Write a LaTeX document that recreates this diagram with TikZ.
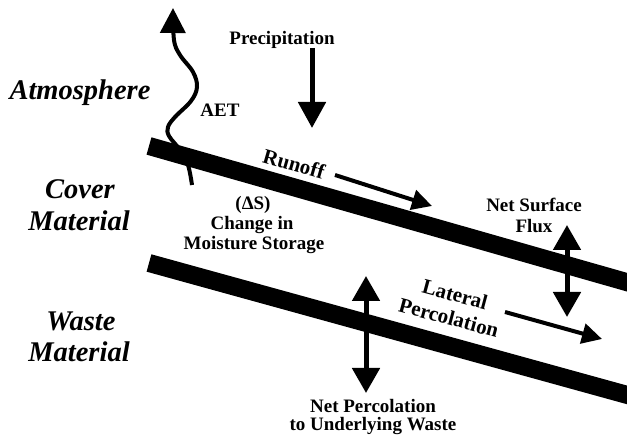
\documentclass[tikz,border=0pt]{standalone}
\usepackage{fontspec}
\setmainfont{Liberation Serif}
\usetikzlibrary{arrows.meta}
\begin{document}
\begin{tikzpicture}[x=1pt,y=-1pt,
  band/.style={line width=18pt, line cap=butt},
  title/.style={font=\fontsize{28.5}{32}\selectfont\bfseries\itshape, anchor=base, inner sep=0pt},
  lbl/.style={font=\fontsize{19}{20}\selectfont\bfseries, anchor=base, inner sep=0pt},
  rlbl/.style={font=\fontsize{21}{24}\selectfont\bfseries, align=center, inner sep=0pt},
  bigarrow/.style={line width=5pt, -{Triangle[width=27pt,length=26pt]}},
  dblarrow/.style={line width=5pt, {Triangle[width=27pt,length=25pt]}-{Triangle[width=27pt,length=25pt]}},
  thinarrow/.style={line width=4pt, -{Triangle[width=20pt,length=20pt]}},
  wavyarrow/.style={line width=4pt, -{Triangle[width=25pt,length=25pt]}},
]
\useasboundingbox (0,0) rectangle (627,438);
\clip (0,0) rectangle (627,438);

% layers
\coordinate (u1) at (149,146); \coordinate (u2) at (660,291.6);
\coordinate (l1) at (149,263); \coordinate (l2) at (660,404);
\draw[band] (u1) -- (u2);
\draw[band] (l1) -- (l2);

% zone titles
\node[title] (atm) at (80,100) {Atmosphere};
\node[title] (cov1) at (80,199) {Cover};
\node[title] (cov2) at (79,231) {Material};
\node[title] (was1) at (81,331) {Waste};
\node[title] (was2) at (79,362) {Material};

% precipitation
\node[lbl] (prec) at (282,45) {Precipitation};
\coordinate (precA) at (312,48); \coordinate (precB) at (312,128);
\draw[bigarrow] (precA) -- (precB);

% AET
\node[lbl] (aet) at (220,117) {AET};
\draw[wavyarrow] plot[smooth, tension=0.6] coordinates {(192,185) (188,165) (180,150) (169,136) (168,127) (175,117) (191,101) (197,87) (193,72) (180,55) (174,40) (173,8)};

% runoff
\node[rlbl, rotate=-16] (runoff) at (294,164) {Runoff};
\coordinate (roA) at (335,175); \coordinate (roB) at (432,206);
\draw[thinarrow] (roA) -- (roB);

% storage
\node[lbl] (ds1) at (253,210) {(ΔS)};
\node[lbl] (ds2) at (252,230) {Change in};
\node[lbl] (ds3) at (254,250) {Moisture Storage};

% net surface flux
\node[lbl] (nsf1) at (534,212) {Net Surface};
\node[lbl] (nsf2) at (534,233) {Flux};
\coordinate (nsfA) at (567,225); \coordinate (nsfB) at (567,317);
\draw[dblarrow] (nsfA) -- (nsfB);

% lateral percolation
\node[rlbl, rotate=-15] (lat) at (452,306) {Lateral\\Percolation};
\coordinate (latA) at (505,312); \coordinate (latB) at (602,339);
\draw[thinarrow] (latA) -- (latB);

% net percolation
\coordinate (npA) at (366,276); \coordinate (npB) at (366,393);
\draw[dblarrow] (npA) -- (npB);
\node[lbl] (np1) at (373,413) {Net Percolation};
\node[lbl] (np2) at (373,431) {to Underlying Waste};
\end{tikzpicture}
\end{document}
